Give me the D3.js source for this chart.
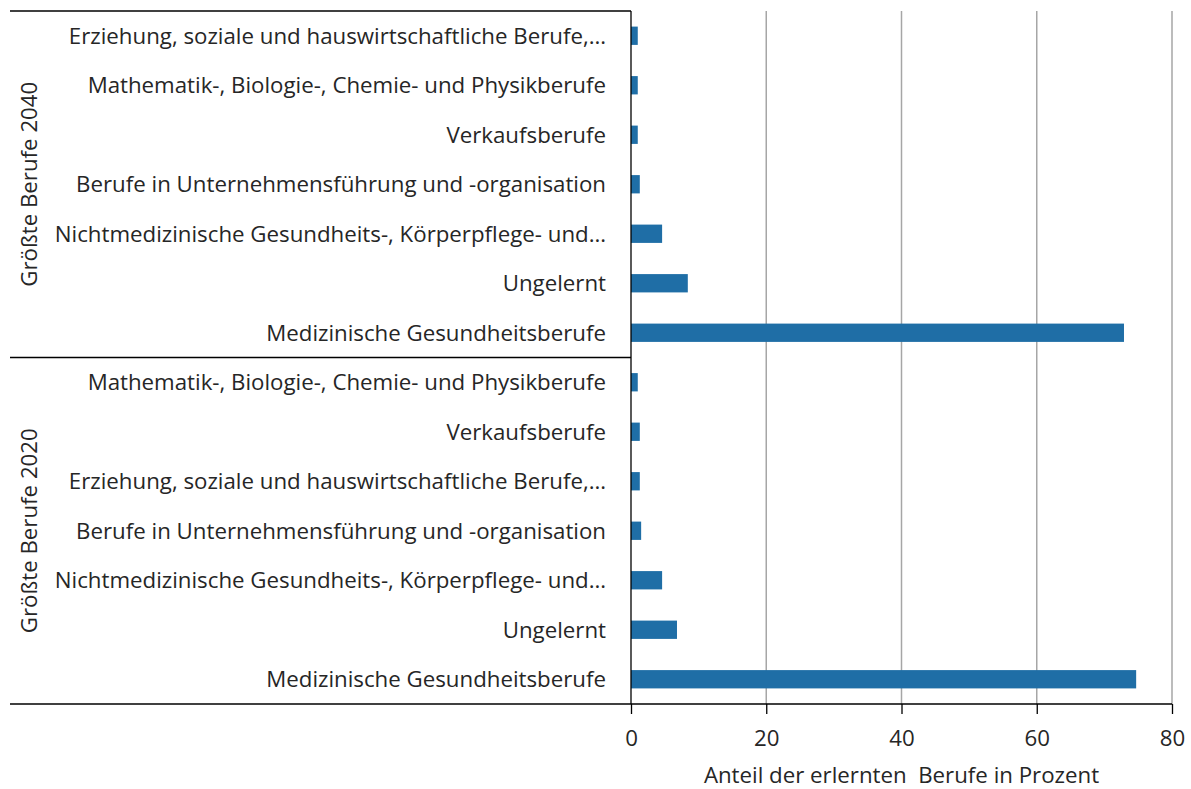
<!DOCTYPE html>
<html><head><meta charset="utf-8">
<script src="https://cdn.jsdelivr.net/npm/d3@7"></script>
<style>body{margin:0;background:#fff}svg{display:block}text{font-family:"Open Sans",sans-serif}</style>
</head><body>
<svg id="c" width="1191" height="789"></svg>
<script>
const groups = ["Größte Berufe 2040", "Größte Berufe 2020"];
const categories2040 = ["Erziehung, soziale und hauswirtschaftliche Berufe,…","Mathematik-, Biologie-, Chemie- und Physikberufe","Verkaufsberufe","Berufe in Unternehmensführung und -organisation","Nichtmedizinische Gesundheits-, Körperpflege- und…","Ungelernt","Medizinische Gesundheitsberufe"];
const values2040 = [1.0, 1.0, 1.0, 1.3, 4.6, 8.4, 72.9];
const categories2020 = ["Mathematik-, Biologie-, Chemie- und Physikberufe","Verkaufsberufe","Erziehung, soziale und hauswirtschaftliche Berufe,…","Berufe in Unternehmensführung und -organisation","Nichtmedizinische Gesundheits-, Körperpflege- und…","Ungelernt","Medizinische Gesundheitsberufe"];
const values2020 = [1.0, 1.3, 1.3, 1.5, 4.6, 6.8, 74.7];
const xTicks = [0, 20, 40, 60, 80];
const xTitle = "Anteil der erlernten  Berufe in Prozent";

const rows = [];
categories2040.forEach((c,i)=>rows.push({g:0,key:"2040|"+i,label:c,v:values2040[i]}));
categories2020.forEach((c,i)=>rows.push({g:1,key:"2020|"+i,label:c,v:values2020[i]}));

const svg = d3.select("#c");
const L = 631, R = 1172, T = 11, B = 704, left0 = 10;
const x = d3.scaleLinear().domain([0,80]).range([L,R]);
const y = d3.scaleBand().domain(rows.map(r=>r.key)).range([T,B]).paddingInner(0.63).paddingOuter(0.315);
const textCol = "#262626";

// pick font size so that label widths resemble the reference
const probe = svg.append("text").attr("font-size",20).text("Medizinische Gesundheitsberufe");
const w20 = probe.node().getComputedTextLength();
probe.remove();
const fs = Math.max(16, Math.min(24, 20*340/w20));

// gridlines
svg.append("g").selectAll("line").data(xTicks.filter(t=>t>0)).join("line")
  .attr("x1",d=>x(d)).attr("x2",d=>x(d)).attr("y1",T).attr("y2",B)
  .attr("stroke","#a6a6a6").attr("stroke-width",1.5);

// bars
svg.append("g").selectAll("rect").data(rows).join("rect")
  .attr("x",x(0)).attr("y",d=>y(d.key)).attr("width",d=>x(d.v)-x(0)).attr("height",y.bandwidth())
  .attr("fill","#1f6ea6");

// x axis
const xa = svg.append("g").attr("transform",`translate(0,${B})`)
  .call(d3.axisBottom(x).tickValues(xTicks).tickSize(10).tickPadding(16).tickSizeOuter(0));
xa.select(".domain").remove();
xa.selectAll("line").attr("stroke","#000").attr("stroke-width",1.3);
xa.selectAll("text").attr("font-size",fs).attr("fill",textCol).attr("font-family","Open Sans");
svg.append("line").attr("x1",left0).attr("x2",R).attr("y1",B).attr("y2",B).attr("stroke","#000").attr("stroke-width",1.3);

// category axis lines
svg.append("line").attr("x1",L).attr("x2",L).attr("y1",T).attr("y2",B).attr("stroke","#000").attr("stroke-width",1.3);
const sepY = [T, (y(rows[6].key)+y.bandwidth()+y(rows[7].key))/2];
svg.append("g").selectAll("line").data(sepY).join("line")
  .attr("x1",left0).attr("x2",L).attr("y1",d=>d).attr("y2",d=>d).attr("stroke","#000").attr("stroke-width",1.3);

// category labels
svg.append("g").selectAll("text").data(rows).join("text")
  .attr("x",606).attr("y",d=>y(d.key)+y.bandwidth()/2).attr("dy","0.35em")
  .attr("text-anchor","end").attr("font-size",fs).attr("fill",textCol).text(d=>d.label);

// group labels
const gc = [(T+sepY[1])/2, (sepY[1]+B)/2];
svg.append("g").selectAll("text").data(groups).join("text")
  .attr("transform",(d,i)=>`translate(37,${gc[i]}) rotate(-90)`)
  .attr("text-anchor","middle").attr("font-size",fs).attr("fill",textCol).text(d=>d);

// x title
svg.append("text").attr("x",x(40)).attr("y",783).attr("text-anchor","middle")
  .attr("font-size",fs).attr("fill",textCol).style("white-space","pre").text(xTitle);
</script>
</body></html>
